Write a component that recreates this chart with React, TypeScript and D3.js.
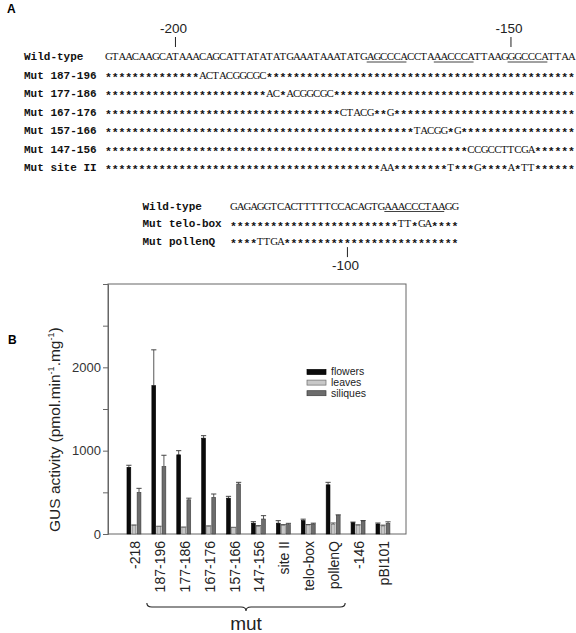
import { useRef, useEffect } from 'react';
import * as d3 from 'd3';

const W = 576;
const H = 633;

// ---- panel A: sequences ----
const seqLabels = ['Wild-type', 'Mut 187-196', 'Mut 177-186', 'Mut 167-176', 'Mut 157-166', 'Mut 147-156', 'Mut site II'];
const seqRows = [
  'GTAACAAGCATAAACAGCATTATATATGAAATAAATATGAGCCCACCTAAACCCATTAAGGGCCCATTAA',
  '*'.repeat(14) + 'ACTACGGCGC' + '*'.repeat(46),
  '*'.repeat(24) + 'AC*ACGGCGC' + '*'.repeat(36),
  '*'.repeat(35) + 'CTACG**G' + '*'.repeat(27),
  '*'.repeat(46) + 'TACGG*G' + '*'.repeat(17),
  '*'.repeat(54) + 'CCGCCTTCGA' + '*'.repeat(6),
  '*'.repeat(41) + 'AA' + '*'.repeat(8) + 'T' + '*'.repeat(3) + 'G' + '*'.repeat(4) + 'A*TT' + '*'.repeat(6),
];
const seqUnderlines = [[39, 44], [49, 54], [60, 65]];
const seqMarks = [{ idx: 10, label: '-200' }, { idx: 60, label: '-150' }];

const lowerLabels = ['Wild-type', 'Mut telo-box', 'Mut pollenQ'];
const lowerRows = [
  'GAGAGGTCACTTTTTCCACAGTGAAACCCTAAGG',
  '*'.repeat(25) + 'TT*GA' + '*'.repeat(4),
  '****TTGA' + '*'.repeat(26),
];
const lowerUnderlines = [[23, 31]];
const lowerMarks = [{ idx: 17, label: '-100' }];

// ---- panel B: GUS activity ----
const categories = ['-218', '187-196', '177-186', '167-176', '157-166', '147-156', 'site II', 'telo-box', 'pollenQ', '-146', 'pBI101'];
const series = ['flowers', 'leaves', 'siliques'];
const flowers = [800, 1780, 950, 1150, 430, 130, 130, 160, 590, 135, 120];
const flowersErr = [25, 430, 50, 30, 22, 18, 30, 18, 30, 8, 12];
const leaves = [100, 88, 78, 92, 76, 92, 104, 108, 116, 104, 96];
const leavesErr = [8, 5, 5, 5, 4, 8, 8, 6, 16, 6, 10];
const siliques = [500, 810, 410, 440, 600, 180, 112, 120, 220, 152, 128];
const siliquesErr = [48, 135, 20, 40, 20, 40, 16, 10, 10, 10, 18];
const yMajor = [0, 1000, 2000];
const yMinor = [500, 1500, 2500];
const mutGroup = ['187-196', 'pollenQ'];

const fills = { flowers: '#0b0b0b', leaves: '#c8c8c8', siliques: '#6c6c6c' };
const strokes = { flowers: '#000', leaves: '#6a6a6a', siliques: '#3c3c3c' };

const SANS = "'Liberation Sans', Arial, sans-serif";

// split a row into runs of asterisks / letters so each can get its own font
const runs = (s) => {
  const out = [];
  s.split('').forEach((ch, k) => {
    const star = ch === '*';
    const last = out[out.length - 1];
    if (last && last.star === star) last.text += ch;
    else out.push({ star, start: k, text: ch });
  });
  return out;
};

const Figure = () => {
  const ref = useRef(null);

  useEffect(() => {
    draw();
  }, []);

  const draw = () => {
    const svg = d3.select(ref.current);
    svg.selectAll('*').remove();

    const cw = 6.71;

    const seqBlock = (g, labels, rows, x0, labelX, y0, dy, underlines, marks, markAbove) => {
      labels.forEach((lab, i) => {
        const y = y0 + i * dy;
        g.append('text')
          .attr('x', labelX)
          .attr('y', y)
          .attr('font-family', "'Liberation Mono', monospace")
          .attr('font-weight', 'bold')
          .attr('font-size', 11)
          .attr('fill', '#111')
          .text(lab);
        const t = g.append('text').attr('fill', '#111');
        runs(rows[i]).forEach((r) => {
          t.append('tspan')
            .attr('x', r.text.split('').map((_, k) => (x0 + (r.start + k) * cw).toFixed(2)).join(' '))
            .attr('y', r.star ? y + 2.2 : y)
            .attr('font-family', r.star ? "'Liberation Mono', monospace" : "'Liberation Serif', serif")
            .attr('font-weight', r.star ? 'bold' : 'normal')
            .attr('font-size', r.star ? 11.5 : 10.8)
            .text(r.text);
        });
      });
      underlines.forEach(([a, b]) => {
        g.append('line')
          .attr('x1', x0 + a * cw)
          .attr('x2', x0 + (b + 1) * cw - 0.5)
          .attr('y1', y0 + 2)
          .attr('y2', y0 + 2)
          .attr('stroke', '#111')
          .attr('stroke-width', 0.8);
      });
      marks.forEach((m) => {
        const cx = x0 + m.idx * cw + cw / 2;
        const ty = markAbove ? y0 - 23 : y0 + (rows.length - 1) * dy + 2;
        g.append('line')
          .attr('x1', cx).attr('x2', cx)
          .attr('y1', ty).attr('y2', ty + 10)
          .attr('stroke', '#222')
          .attr('stroke-width', 1);
        g.append('text')
          .attr('x', cx - 2)
          .attr('y', markAbove ? ty - 4 : ty + 23)
          .attr('text-anchor', 'middle')
          .attr('font-family', SANS)
          .attr('font-size', 13.5)
          .attr('fill', '#222')
          .text(m.label);
      });
    };

    svg.append('text')
      .attr('x', 7).attr('y', 13)
      .attr('font-family', SANS).attr('font-weight', 'bold').attr('font-size', 12)
      .text('A');

    seqBlock(svg.append('g'), seqLabels, seqRows, 105, 24, 60, 18.5, seqUnderlines, seqMarks, true);
    seqBlock(svg.append('g'), lowerLabels, lowerRows, 230, 142.5, 209.5, 17.8, lowerUnderlines, lowerMarks, false);

    // ---- panel B ----
    svg.append('text')
      .attr('x', 8).attr('y', 344)
      .attr('font-family', SANS).attr('font-weight', 'bold').attr('font-size', 12)
      .text('B');

    const left = 108, right = 406, top = 284, bottom = 534;

    const y = d3.scaleLinear().domain([0, 3000]).range([bottom, top]);
    const x = d3.scaleBand().domain(categories).range([121.5, 395.4]).paddingInner(0.44).paddingOuter(0.22);
    const xs = d3.scaleBand().domain(series).range([0, x.bandwidth()]).paddingInner(0.25);

    svg.append('rect')
      .attr('x', left).attr('y', top)
      .attr('width', right - left).attr('height', bottom - top)
      .attr('fill', 'none').attr('stroke', '#666').attr('stroke-width', 1);

    const yAxis = svg.append('g')
      .attr('transform', `translate(${left},0)`)
      .call(d3.axisLeft(y).tickValues(yMajor).tickSize(5).tickPadding(2).tickFormat(d3.format('d')));
    yAxis.select('.domain').attr('stroke', '#666');
    yAxis.selectAll('line').attr('stroke', '#666');
    yAxis.selectAll('text').attr('font-family', SANS).attr('font-size', 13).attr('fill', '#333');

    const yMin = svg.append('g')
      .attr('transform', `translate(${left},0)`)
      .call(d3.axisLeft(y).tickValues(yMinor).tickSize(5).tickFormat(() => ''));
    yMin.select('.domain').remove();
    yMin.selectAll('line').attr('stroke', '#666');

    const vals = { flowers, leaves, siliques };
    const errs = { flowers: flowersErr, leaves: leavesErr, siliques: siliquesErr };

    series.forEach((s) => {
      const g = svg.append('g');
      categories.forEach((c, i) => {
        const bx = x(c) + xs(s);
        const bw = xs.bandwidth();
        const v = vals[s][i];
        const e = errs[s][i];
        const cx = bx + bw / 2;
        g.append('line')
          .attr('x1', cx).attr('x2', cx)
          .attr('y1', y(v)).attr('y2', y(v + e))
          .attr('stroke', '#444').attr('stroke-width', 0.9);
        g.append('line')
          .attr('x1', cx - 2.6).attr('x2', cx + 2.6)
          .attr('y1', y(v + e)).attr('y2', y(v + e))
          .attr('stroke', '#444').attr('stroke-width', 1);
        g.append('rect')
          .attr('x', bx).attr('y', y(v))
          .attr('width', bw).attr('height', y(0) - y(v))
          .attr('fill', fills[s])
          .attr('stroke', strokes[s])
          .attr('stroke-width', 0.6);
      });
    });

    // x labels
    categories.forEach((c) => {
      const cx = x(c) + x.bandwidth() / 2 + 1;
      svg.append('text')
        .attr('transform', `translate(${cx + 5},541) rotate(-90)`)
        .attr('text-anchor', 'end')
        .attr('font-family', SANS)
        .attr('font-size', 14)
        .attr('fill', '#222')
        .text(c);
    });

    // brace under the mutant constructs
    const bx0 = x(mutGroup[0]) + x.bandwidth() / 2 - 12;
    const bx1 = x(mutGroup[1]) + x.bandwidth() / 2 + 12;
    const bm = (bx0 + bx1) / 2;
    const by = 607;
    svg.append('path')
      .attr('d', `M${bx0},${by - 4} Q${bx0},${by} ${bx0 + 5},${by} L${bm - 5},${by} Q${bm},${by} ${bm},${by + 4} Q${bm},${by} ${bm + 5},${by} L${bx1 - 5},${by} Q${bx1},${by} ${bx1},${by - 4}`)
      .attr('fill', 'none')
      .attr('stroke', '#222')
      .attr('stroke-width', 1.1);
    svg.append('text')
      .attr('x', bm).attr('y', 630)
      .attr('text-anchor', 'middle')
      .attr('font-family', SANS)
      .attr('font-size', 19)
      .attr('fill', '#222')
      .text('mut');

    // y label
    const yl = svg.append('text')
      .attr('transform', 'translate(60,532) rotate(-90)')
      .attr('font-family', SANS)
      .attr('font-size', 15.5)
      .attr('fill', '#222');
    yl.append('tspan').text('GUS activity (pmol.min');
    yl.append('tspan').attr('font-size', 9).attr('dy', -6).text('-1');
    yl.append('tspan').attr('dy', 6).text('.mg');
    yl.append('tspan').attr('font-size', 9).attr('dy', -6).text('-1');
    yl.append('tspan').attr('dy', 6).text(')');

    // legend
    const lg = svg.append('g').attr('transform', 'translate(307,369.5)');
    series.forEach((s, i) => {
      lg.append('rect')
        .attr('x', 0).attr('y', i * 10.6)
        .attr('width', 19).attr('height', 5)
        .attr('fill', fills[s]).attr('stroke', strokes[s]).attr('stroke-width', 0.7);
      lg.append('text')
        .attr('x', 24).attr('y', i * 10.6 + 5.8)
        .attr('font-family', SANS)
        .attr('font-size', 10.5)
        .attr('fill', '#222')
        .text(s);
    });
  };

  return <svg ref={ref} width={W} height={H} style={{ position: 'absolute', left: 0, top: 0, background: '#fff' }}></svg>;
};

export default function App() {
  return <Figure />;
}
